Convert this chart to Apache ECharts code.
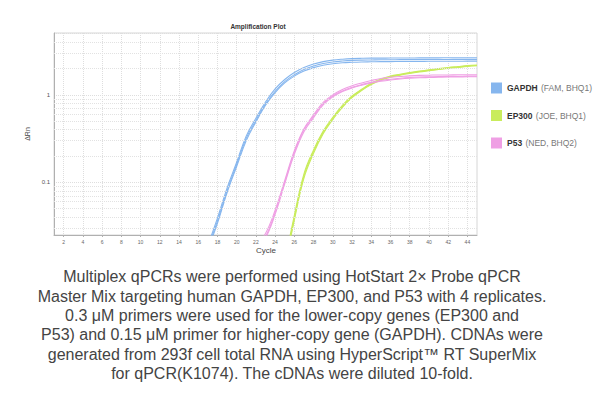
<!DOCTYPE html>
<html>
<head>
<meta charset="utf-8">
<script src="https://cdn.jsdelivr.net/npm/echarts@6/dist/echarts.min.js"></script>
<style>
  html, body { margin: 0; padding: 0; background: #fff; }
  #main { width: 610px; height: 417px; }
</style>
</head>
<body>
<div id="main"></div>
<script>
// cycles shown on the x axis
var cycles = [];
for (var c = 1; c <= 45; c++) cycles.push(String(c));

// ΔRn readings, one array per replicate, starting at the given cycle
var gapdhStart = 17;
var gapdh_1 = [0.019, 0.039, 0.086, 0.17, 0.34, 0.54, 0.83, 1.17, 1.5, 1.8, 2.05, 2.25, 2.4, 2.5, 2.56, 2.6, 2.62, 2.63, 2.63, 2.64, 2.64, 2.64, 2.65, 2.65, 2.65, 2.66, 2.66, 2.66, 2.66];
var gapdh_2 = [0.018, 0.036, 0.08, 0.16, 0.32, 0.51, 0.79, 1.1, 1.42, 1.7, 1.95, 2.14, 2.28, 2.38, 2.44, 2.48, 2.5, 2.51, 2.52, 2.52, 2.53, 2.53, 2.53, 2.54, 2.54, 2.54, 2.55, 2.55, 2.55];
var gapdh_3 = [0.017, 0.034, 0.076, 0.152, 0.3, 0.49, 0.76, 1.06, 1.37, 1.64, 1.87, 2.05, 2.18, 2.27, 2.33, 2.36, 2.38, 2.39, 2.4, 2.4, 2.41, 2.41, 2.41, 2.42, 2.42, 2.42, 2.42, 2.43, 2.43];

var ep300Start = 25;
var ep300_1 = [0.012, 0.042, 0.125, 0.235, 0.385, 0.555, 0.76, 0.97, 1.16, 1.36, 1.52, 1.64, 1.72, 1.8, 1.87, 1.93, 2.0, 2.06, 2.11, 2.16, 2.2];
var ep300_2 = [0.011, 0.039, 0.118, 0.225, 0.37, 0.54, 0.74, 0.95, 1.14, 1.33, 1.49, 1.61, 1.7, 1.78, 1.85, 1.91, 1.97, 2.03, 2.08, 2.13, 2.17];
var ep300_3 = [0.0105, 0.037, 0.112, 0.215, 0.36, 0.525, 0.72, 0.93, 1.12, 1.31, 1.47, 1.59, 1.68, 1.76, 1.83, 1.89, 1.95, 2.01, 2.06, 2.11, 2.15];

var p53Start = 22;
var p53_1 = [0.019, 0.026, 0.048, 0.105, 0.23, 0.41, 0.59, 0.82, 1.0, 1.15, 1.27, 1.37, 1.46, 1.54, 1.59, 1.62, 1.65, 1.67, 1.68, 1.69, 1.69, 1.7, 1.7, 1.7];
var p53_2 = [0.018, 0.024, 0.045, 0.1, 0.22, 0.4, 0.57, 0.79, 0.97, 1.11, 1.22, 1.31, 1.39, 1.46, 1.51, 1.55, 1.58, 1.6, 1.61, 1.62, 1.63, 1.63, 1.64, 1.64];
var p53_3 = [0.017, 0.023, 0.043, 0.096, 0.21, 0.38, 0.55, 0.77, 0.95, 1.09, 1.2, 1.29, 1.37, 1.43, 1.48, 1.52, 1.55, 1.57, 1.58, 1.59, 1.6, 1.6, 1.61, 1.61];

// log grid lines between the decades
var minorGrid = [0.03, 0.04, 0.05, 0.06, 0.07, 0.08, 0.09, 0.2, 0.3, 0.4, 0.5, 0.6, 0.7, 0.8, 0.9, 2, 3, 4];

var names = ['GAPDH (FAM, BHQ1)', 'EP300 (JOE, BHQ1)', 'P53 (NED, BHQ2)'];
var colors = ['#86b6ee', '#c9ec5c', '#ef9fe4'];

var caption = [
  'Multiplex qPCRs were performed using HotStart 2× Probe qPCR',
  'Master Mix targeting human GAPDH, EP300, and P53 with 4 replicates.',
  '0.3 μM primers were used for the lower-copy genes (EP300 and',
  'P53) and 0.15 μM primer for higher-copy gene (GAPDH). CDNAs were',
  'generated from 293f cell total RNA using HyperScript™ RT SuperMix',
  'for qPCR(K1074). The cDNAs were diluted 10-fold.'
];

// pad a replicate so it lines up with the cycle categories
function pad(start, arr) {
  var out = [];
  for (var i = 1; i < start; i++) out.push('-');
  return out.concat(arr);
}

function curve(idx, start, arr) {
  return {
    name: names[idx],
    type: 'line',
    data: pad(start, arr),
    smooth: 0.4,
    symbol: 'none',
    color: colors[idx],
    lineStyle: { width: 1.1, color: colors[idx] },
    silent: true,
    z: 3
  };
}

var everyOther = function (index, value) { return Number(value) % 2 === 0; };

var chart = echarts.init(document.getElementById('main'), null, { renderer: 'svg' });

var option = {
  backgroundColor: '#fff',
  animation: false,
  title: {
    text: 'Amplification Plot',
    left: 253,
    top: 18,
    textAlign: 'center',
    textStyle: { fontSize: 6.5, fontWeight: 'bold', color: '#333', fontFamily: 'Liberation Sans' }
  },
  legend: {
    data: names,
    orient: 'vertical',
    left: 486,
    top: 77,
    itemWidth: 11,
    itemHeight: 11,
    itemGap: 15.5,
    icon: 'rect',
    selectedMode: false,
    formatter: function (name) {
      var p = name.indexOf(' (');
      return '{a|' + name.slice(0, p) + '} {b|' + name.slice(p + 1) + '}';
    },
    textStyle: {
      fontFamily: 'Liberation Sans',
      rich: {
        a: { fontSize: 8.5, fontWeight: 'bold', color: '#333' },
        b: { fontSize: 8.5, color: '#777' }
      }
    }
  },
  grid: {
    left: 54, top: 33, width: 423, height: 202,
    show: true, borderColor: '#d6d6d6', borderWidth: 1
  },
  xAxis: {
    type: 'category',
    data: cycles,
    boundaryGap: false,
    axisLine: { lineStyle: { color: '#b0b0b0' } },
    axisTick: { show: true, length: 2, interval: everyOther, lineStyle: { color: '#b0b0b0' } },
    axisLabel: { interval: everyOther, fontSize: 5, color: '#666', margin: 4, fontFamily: 'Liberation Sans' },
    splitLine: { show: true, interval: everyOther, lineStyle: { color: '#dedede', type: 'dotted' } }
  },
  yAxis: {
    type: 'log',
    logBase: 10,
    min: 0.025,
    max: 5.1,
    name: 'ΔRn',
    nameLocation: 'middle',
    nameGap: 18,
    nameTextStyle: { fontSize: 7, color: '#444', fontFamily: 'Liberation Sans' },
    axisLine: { show: true, lineStyle: { color: '#b0b0b0' } },
    axisTick: { show: false },
    axisLabel: {
      fontSize: 6, color: '#555', margin: 4, fontFamily: 'Liberation Sans',
      showMinLabel: false, showMaxLabel: false,
      formatter: function (v) {
        if (Math.abs(v - 1) < 1e-6) return '1';
        if (Math.abs(v - 0.1) < 1e-7) return '0.1';
        return '';
      }
    },
    splitLine: { show: true, lineStyle: { color: '#dedede', type: 'dotted' } }
  },
  graphic: [{
    type: 'text',
    x: 266,
    y: 250,
    style: {
      text: 'Cycle',
      textAlign: 'center',
      textVerticalAlign: 'middle',
      fontSize: 8,
      fill: '#444',
      fontFamily: 'Liberation Sans'
    }
  }, {
    type: 'text',
    x: 292,
    y: 267,
    style: {
      text: caption.join('\n'),
      textAlign: 'center',
      textVerticalAlign: 'top',
      fontSize: 16,
      lineHeight: 19.4,
      fill: '#444',
      fontFamily: 'Liberation Sans'
    }
  }],
  series: [
    {
      type: 'line',
      data: [],
      silent: true,
      markLine: {
        silent: true,
        symbol: 'none',
        label: { show: false },
        lineStyle: { color: '#e2e2e2', type: 'dotted', width: 1 },
        data: minorGrid.map(function (v) { return { yAxis: v }; })
      }
    },
    curve(0, gapdhStart, gapdh_1),
    curve(0, gapdhStart, gapdh_2),
    curve(0, gapdhStart, gapdh_3),
    curve(1, ep300Start, ep300_1),
    curve(1, ep300Start, ep300_2),
    curve(1, ep300Start, ep300_3),
    curve(2, p53Start, p53_1),
    curve(2, p53Start, p53_2),
    curve(2, p53Start, p53_3)
  ]
};

chart.setOption(option);
</script>
</body>
</html>
